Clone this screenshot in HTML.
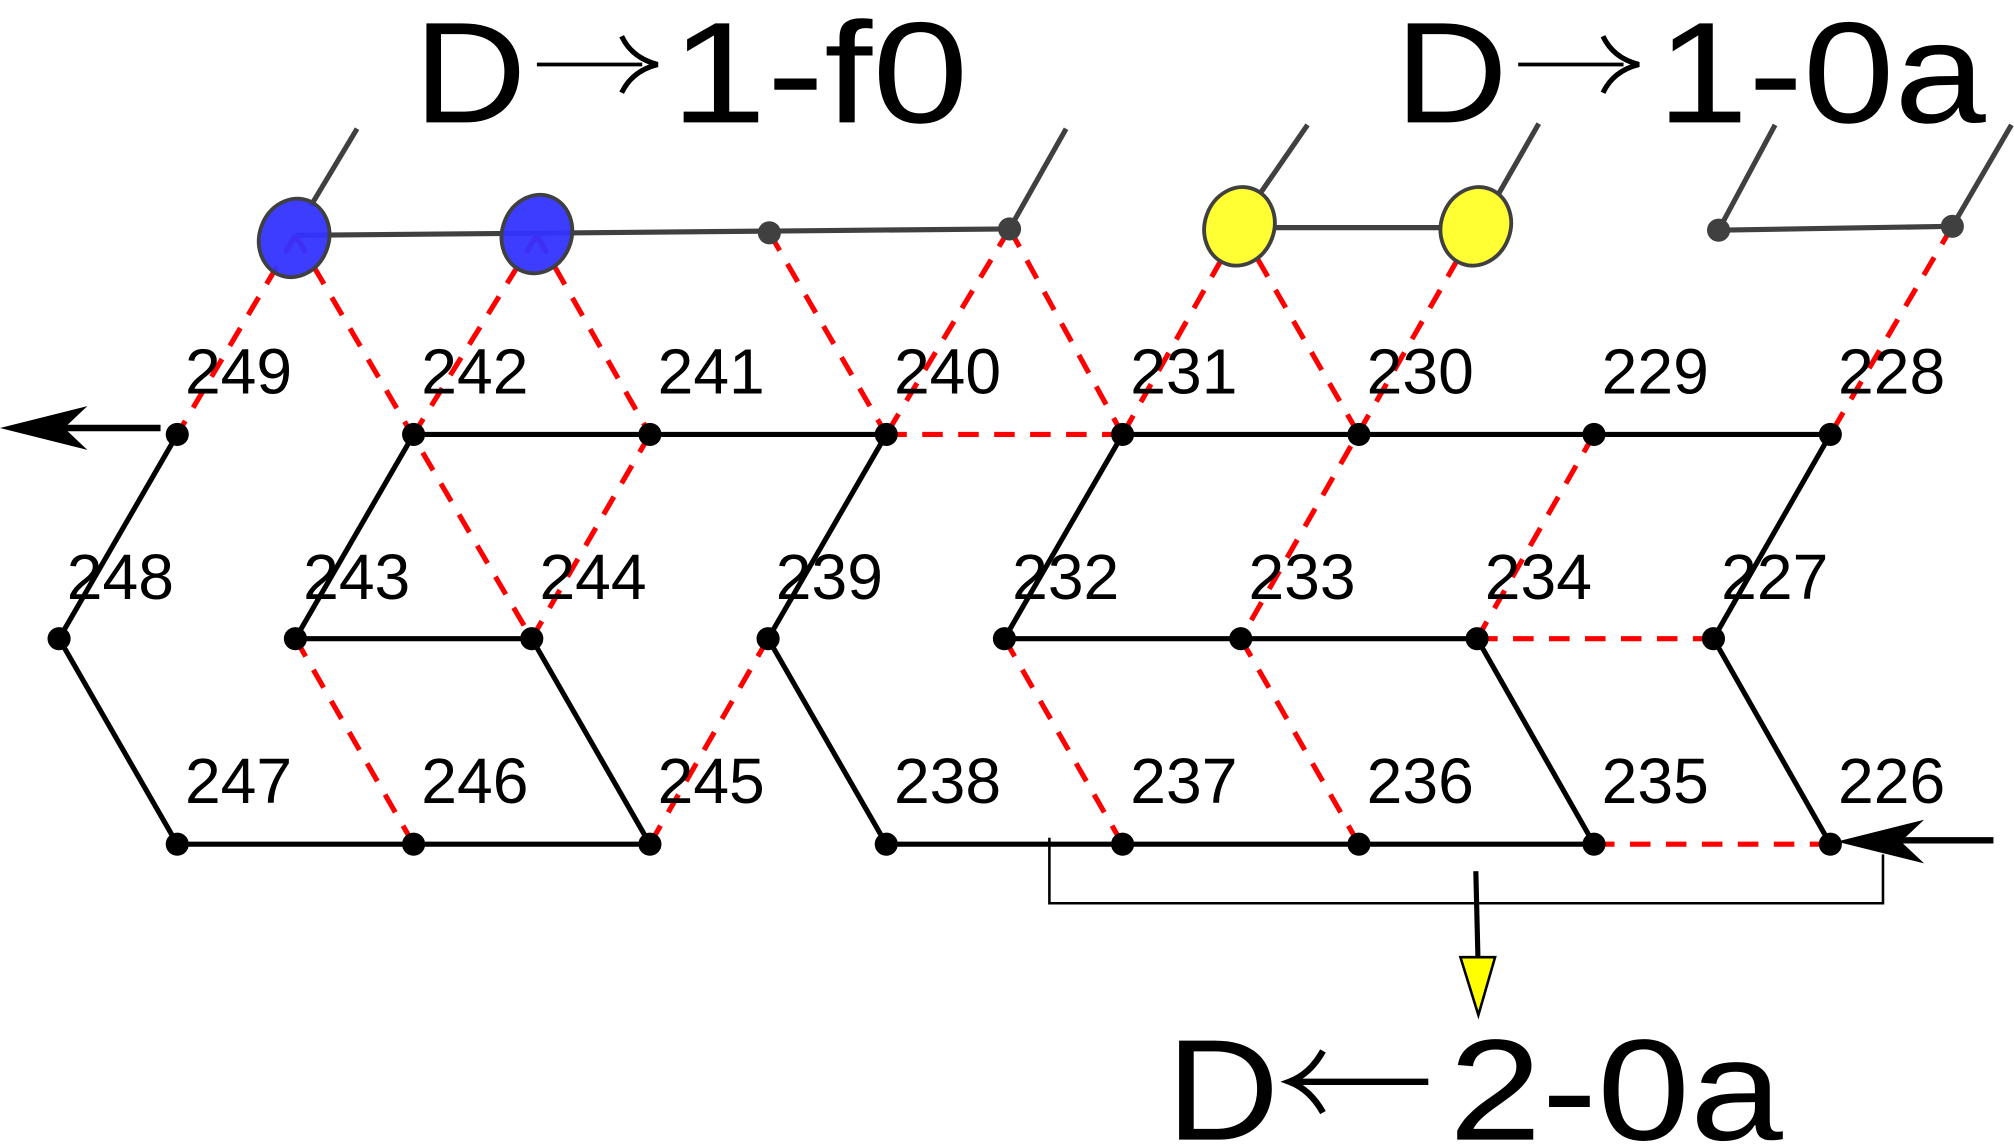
<!DOCTYPE html>
<html><head><meta charset="utf-8"><style>
html,body{margin:0;padding:0;background:#fff;width:2014px;height:1145px;overflow:hidden}
svg{display:block}
text{font-family:"Liberation Sans","DejaVu Sans",sans-serif}
</style></head><body>
<svg width="2014" height="1145" viewBox="0 0 1568 891" xmlns="http://www.w3.org/2000/svg">
<!-- titles -->
<g font-size="112" fill="#000">
<text x="322" y="95" textLength="88" lengthAdjust="spacingAndGlyphs">D</text>
<text x="522" y="95" textLength="232" lengthAdjust="spacingAndGlyphs">1-f0</text>
<text x="1086" y="95" textLength="88" lengthAdjust="spacingAndGlyphs">D</text>
<text x="1290" y="95" textLength="256" lengthAdjust="spacingAndGlyphs">1-0a</text>
<text x="908" y="887" textLength="88" lengthAdjust="spacingAndGlyphs">D</text>
<text x="1128" y="887" textLength="260" lengthAdjust="spacingAndGlyphs">2-0a</text>
</g>
<g stroke="#000" stroke-width="3" fill="none">
<line x1="418" y1="50" x2="500" y2="50"/>
<path d="M484,28 Q492,45 512,50 Q492,55 484,72" stroke-width="4"/>
<line x1="1182" y1="50" x2="1264" y2="50"/>
<path d="M1248,28 Q1256,45 1276,50 Q1256,55 1248,72" stroke-width="4"/>
<line x1="1010" y1="842" x2="1112" y2="842" stroke-width="5"/>
<path d="M1030,818 Q1020,836 1004,842 Q1020,848 1030,866" stroke-width="5"/>
</g>
<!-- top gray structure -->
<g stroke="#404040" stroke-width="4" fill="none">
<line x1="230" y1="183" x2="786" y2="178"/>
<line x1="242" y1="160" x2="278" y2="100"/>
<line x1="786" y1="178" x2="830" y2="100"/>
<line x1="965" y1="177" x2="1149" y2="177"/>
<line x1="980" y1="152" x2="1018" y2="97"/>
<line x1="1166" y1="152" x2="1198" y2="96"/>
<line x1="1338" y1="179" x2="1520" y2="176"/>
<line x1="1338" y1="179" x2="1382" y2="97"/>
<line x1="1520" y1="176" x2="1566" y2="97"/>
</g>
<!-- red dashed -->
<g stroke="#ff0000" stroke-width="4" stroke-dasharray="16,12" fill="none">
<line x1="230" y1="183" x2="138" y2="338"/>
<line x1="230" y1="183" x2="414" y2="497"/>
<line x1="418" y1="183" x2="322" y2="338"/>
<line x1="418" y1="183" x2="506" y2="338"/>
<line x1="506" y1="338" x2="414" y2="497"/>
<line x1="599" y1="181" x2="690" y2="338"/>
<line x1="786" y1="178" x2="690" y2="338"/>
<line x1="786" y1="178" x2="874" y2="338"/>
<line x1="965" y1="177" x2="874" y2="338"/>
<line x1="965" y1="177" x2="1058" y2="338"/>
<line x1="1149" y1="177" x2="966" y2="497"/>
<line x1="1241" y1="338" x2="1150" y2="497"/>
<line x1="1520" y1="176" x2="1425" y2="338"/>
<line x1="690" y1="338" x2="874" y2="338"/>
<line x1="1150" y1="497" x2="1334" y2="497"/>
<line x1="1241" y1="657" x2="1425" y2="657"/>
<line x1="230" y1="497" x2="322" y2="657"/>
<line x1="598" y1="497" x2="506" y2="657"/>
<line x1="782" y1="497" x2="874" y2="657"/>
<line x1="966" y1="497" x2="1058" y2="657"/>
</g>
<!-- black edges -->
<g stroke="#000" stroke-width="4" fill="none">
<line x1="322" y1="338" x2="690" y2="338"/>
<line x1="874" y1="338" x2="1425" y2="338"/>
<line x1="230" y1="497" x2="414" y2="497"/>
<line x1="782" y1="497" x2="1150" y2="497"/>
<line x1="138" y1="657" x2="506" y2="657"/>
<line x1="690" y1="657" x2="1241" y2="657"/>
<polyline points="138,338 46,497 138,657"/>
<line x1="322" y1="338" x2="230" y2="497"/>
<line x1="414" y1="497" x2="506" y2="657"/>
<polyline points="690,338 598,497 690,657"/>
<line x1="874" y1="338" x2="782" y2="497"/>
<line x1="1150" y1="497" x2="1241" y2="657"/>
<polyline points="1425,338 1334,497 1425,657"/>
</g>
<!-- nodes -->
<g fill="#000">
<circle cx="138" cy="338" r="9"/><circle cx="322" cy="338" r="9"/><circle cx="506" cy="338" r="9"/><circle cx="690" cy="338" r="9"/><circle cx="874" cy="338" r="9"/><circle cx="1058" cy="338" r="9"/><circle cx="1241" cy="338" r="9"/><circle cx="1425" cy="338" r="9"/>
<circle cx="46" cy="497" r="9"/><circle cx="230" cy="497" r="9"/><circle cx="414" cy="497" r="9"/><circle cx="598" cy="497" r="9"/><circle cx="782" cy="497" r="9"/><circle cx="966" cy="497" r="9"/><circle cx="1150" cy="497" r="9"/><circle cx="1334" cy="497" r="9"/>
<circle cx="138" cy="657" r="9"/><circle cx="322" cy="657" r="9"/><circle cx="506" cy="657" r="9"/><circle cx="690" cy="657" r="9"/><circle cx="874" cy="657" r="9"/><circle cx="1058" cy="657" r="9"/><circle cx="1241" cy="657" r="9"/><circle cx="1425" cy="657" r="9"/>
</g>
<g fill="#404040">
<circle cx="599" cy="181" r="9"/><circle cx="786" cy="178" r="9"/><circle cx="1338" cy="179" r="9"/><circle cx="1520" cy="176" r="9"/>
</g>
<g stroke="#404040" stroke-width="3">
<ellipse cx="229" cy="185" rx="27" ry="31" fill="#3333ff" fill-opacity="0.95" transform="rotate(20 229 185)"/>
<ellipse cx="418" cy="182" rx="27" ry="31" fill="#3333ff" fill-opacity="0.95" transform="rotate(20 418 182)"/>
<ellipse cx="965" cy="176" rx="27" ry="31" fill="#ffff33" transform="rotate(20 965 176)"/>
<ellipse cx="1149" cy="176" rx="27" ry="31" fill="#ffff33" transform="rotate(20 1149 176)"/>
</g>
<!-- labels -->
<g font-size="50" fill="#000">
<text x="144" y="306">249</text><text x="328" y="306">242</text><text x="512" y="306">241</text><text x="696" y="306">240</text><text x="880" y="306">231</text><text x="1064" y="306">230</text><text x="1247" y="306">229</text><text x="1431" y="306">228</text>
<text x="52" y="466">248</text><text x="236" y="466">243</text><text x="420" y="466">244</text><text x="604" y="466">239</text><text x="788" y="466">232</text><text x="972" y="466">233</text><text x="1156" y="466">234</text><text x="1340" y="466">227</text>
<text x="144" y="625">247</text><text x="328" y="625">246</text><text x="512" y="625">245</text><text x="696" y="625">238</text><text x="880" y="625">237</text><text x="1064" y="625">236</text><text x="1247" y="625">235</text><text x="1431" y="625">226</text>
</g>
<!-- arrows -->
<line x1="125" y1="333" x2="40" y2="333" stroke="#000" stroke-width="5"/>
<path d="M0,333 L68,316 L50,333 L68,350 Z" fill="#000"/>
<line x1="1552" y1="654" x2="1470" y2="654" stroke="#000" stroke-width="5"/>
<path d="M1430,655 L1498,638 L1480,655 L1498,672 Z" fill="#000"/>
<polyline points="817,652 817,703 1466,703 1466,665" fill="none" stroke="#000" stroke-width="2"/>
<line x1="1149" y1="678" x2="1151" y2="760" stroke="#000" stroke-width="4"/>
<path d="M1137,745 L1164,745 L1151,790 Z" fill="#ffff00" stroke="#000" stroke-width="2"/>
</svg>
</body></html>
